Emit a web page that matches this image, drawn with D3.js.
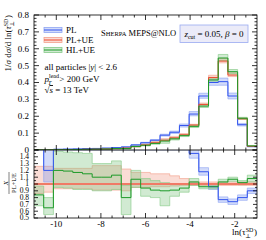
<!DOCTYPE html>
<html><head><meta charset="utf-8">
<script src="https://cdn.jsdelivr.net/npm/d3@7"></script>
<style>
body{margin:0;background:#fff}
svg{display:block}
text{font-family:"Liberation Serif","DejaVu Serif",serif;fill:#000}
</style></head><body>
<svg id="c" width="266" height="240"></svg>
<script>
// ---- data ----
const binEdges = [-11,-10.565,-10.130,-9.696,-9.261,-8.826,-8.391,-7.957,-7.522,-7.087,-6.652,-6.217,-5.783,-5.348,-4.913,-4.478,-4.043,-3.609,-3.174,-2.739,-2.304,-1.870,-1.435,-1];
const seriesNames = ["PL","PL+UE","HL+UE"];
const mainPL   = [0.002,0.002,0.004,0.005,0.006,0.008,0.009,0.011,0.014,0.018,0.030,0.043,0.058,0.088,0.105,0.145,0.213,0.320,0.400,0.405,0.320,0.150,0.020];
const mainPLUE = [0.001,0.001,0.002,0.002,0.003,0.004,0.005,0.006,0.008,0.011,0.020,0.030,0.043,0.058,0.072,0.090,0.148,0.270,0.430,0.527,0.444,0.185,0.022];
const mainHLUE = [0.001,0.001,0.002,0.002,0.003,0.004,0.005,0.006,0.009,0.009,0.021,0.028,0.039,0.053,0.066,0.085,0.140,0.260,0.415,0.545,0.464,0.188,0.024];
// ratio to PL+UE
const ratioPL    = [1.60,1.20,1.60,1.60,1.60,1.60,1.60,1.60,1.60,1.60,1.60,1.60,1.60,1.60,1.60,1.60,1.45,1.18,0.96,0.77,0.74,0.80,0.90];
const ratioPLlo  = [1.50,1.03,1.50,1.50,1.50,1.50,1.50,1.50,1.50,1.50,1.50,1.50,1.50,1.50,1.50,1.50,1.38,1.13,0.92,0.73,0.70,0.76,0.86];
const ratioPLhi  = [1.70,1.55,1.70,1.70,1.70,1.70,1.70,1.70,1.70,1.70,1.70,1.70,1.70,1.70,1.70,1.70,1.55,1.24,1.00,0.81,0.78,0.84,0.94];
const ratioUElo  = [0.86,0.88,0.93,0.93,0.93,0.93,0.91,0.91,0.91,0.90,0.95,0.95,0.96,0.96,0.97,0.98,0.98,0.98,0.98,0.98,0.98,0.98,0.98];
const ratioUEhi  = [1.26,1.26,1.23,1.23,1.23,1.23,1.27,1.27,1.27,1.22,1.17,1.17,1.15,1.15,1.12,1.08,1.03,1.03,1.03,1.03,1.03,1.03,1.03];
const ratioHL    = [0.84,0.65,1.20,1.19,1.17,1.15,1.10,1.10,1.13,0.80,1.07,0.94,0.91,0.90,0.91,0.94,1.03,0.96,0.96,1.03,1.07,1.02,1.08];
const ratioHLlo  = [0.68,0.55,0.95,0.94,0.92,0.92,0.90,0.90,0.92,0.55,0.95,0.82,0.80,0.68,0.82,0.88,0.98,0.93,0.93,1.00,1.04,0.99,1.03];
const ratioHLhi  = [0.97,0.80,1.48,1.47,1.46,1.45,1.30,1.30,1.34,0.98,1.20,1.08,1.05,1.02,1.00,1.00,1.08,1.00,0.99,1.07,1.10,1.05,1.13];
const yTicksMain  = [0,0.1,0.2,0.3,0.4,0.5,0.6,0.7,0.8];
const yLabelsMain = ["0","0.1","0.2","0.3","0.4","0.5","0.6","0.7","0.8"];
const yTicksRatio  = [0.5,0.6,0.7,0.8,0.9,1.0,1.1,1.2,1.3,1.4];
const yLabelsRatio = ["0.5","0.6","0.7","0.8","0.9","1","1.1","1.2","1.3","1.4"];
const xTicks  = [-10,-8,-6,-4,-2];
const xLabels = ["-10","-8","-6","-4","-2"];

// ---- layout ----
const svg = d3.select("#c");
const L = 34, R = 257, T = 15, MB = 150, RB = 218;
const x = d3.scaleLinear().domain([-11,-1]).range([L,R]);
const y = d3.scaleLinear().domain([0,0.8]).range([MB,T]);
const yr = d3.scaleLinear().domain([0.5,1.5]).range([RB,MB]);

const col = {
  PL:{line:"#3355ee",band:"#7f99f0",edge:"#8fa6f2"},
  UE:{line:"#ee4a2e",band:"#f29a86",edge:"#f3a08c"},
  HL:{line:"#1d9a28",band:"#7cc47e",edge:"#86c988"}
};

const defs = svg.append("defs");
defs.append("clipPath").attr("id","cm").append("rect").attr("x",L).attr("y",T).attr("width",R-L).attr("height",MB-T);
defs.append("clipPath").attr("id","cr").append("rect").attr("x",L).attr("y",MB).attr("width",R-L).attr("height",RB-MB);

function pts(vals){ const p = vals.map((v,i)=>[binEdges[i],v]); p.push([binEdges[vals.length],vals[vals.length-1]]); return p; }
function ptsBand(lo,hi){ const p = lo.map((v,i)=>[binEdges[i],v,hi[i]]); p.push([binEdges[lo.length],lo[lo.length-1],hi[hi.length-1]]); return p; }

function drawSet(g, ys, bands, lines){
  bands.forEach(b=>{
    const d = ptsBand(b.lo,b.hi);
    g.append("path").datum(d)
      .attr("d", d3.area().curve(d3.curveStepAfter).x(p=>x(p[0])).y0(p=>ys(p[1])).y1(p=>ys(p[2])))
      .attr("fill",b.c.band).attr("fill-opacity",0.35).attr("stroke","none");
    [b.lo,b.hi].forEach(arr=>{
      g.append("path").datum(pts(arr))
       .attr("d", d3.line().curve(d3.curveStepAfter).x(p=>x(p[0])).y(p=>ys(p[1])))
       .attr("fill","none").attr("stroke",b.c.edge).attr("stroke-width",0.8).attr("stroke-opacity",0.8);
    });
  });
  lines.forEach(l=>{
    g.append("path").datum(pts(l.v))
      .attr("d", d3.line().curve(d3.curveStepAfter).x(p=>x(p[0])).y(p=>ys(p[1])))
      .attr("fill","none").attr("stroke",l.c.line).attr("stroke-width",l.w||1);
  });
}

// main panel bands: relative uncertainty taken from ratio panel
const rel = (v,lo,c)=>v.map((d,i)=>d*lo[i]/c[i]);
const ones = ratioUElo.map(()=>1);
const gm = svg.append("g").attr("clip-path","url(#cm)");
drawSet(gm, y, [
  {lo:rel(mainPL,ratioPLlo,ratioPL),hi:rel(mainPL,ratioPLhi,ratioPL),c:col.PL},
  {lo:rel(mainPLUE,ratioUElo,ones),hi:rel(mainPLUE,ratioUEhi,ones),c:col.UE},
  {lo:rel(mainHLUE,ratioHLlo,ratioHL),hi:rel(mainHLUE,ratioHLhi,ratioHL),c:col.HL}
],[
  {v:mainPL,c:col.PL},{v:mainPLUE,c:col.UE},{v:mainHLUE,c:col.HL}
]);

const gr = svg.append("g").attr("clip-path","url(#cr)");
drawSet(gr, yr, [
  {lo:ratioUElo,hi:ratioUEhi,c:col.UE},
  {lo:ratioPLlo,hi:ratioPLhi,c:col.PL},
  {lo:ratioHLlo,hi:ratioHLhi,c:col.HL}
],[
  {v:ones,c:{line:"#f07a66"},w:2},
  {v:ratioPL,c:col.PL},{v:ratioHL,c:col.HL}
]);

// ---- frames and ticks ----
const ax = svg.append("g").attr("stroke","#000").attr("stroke-width",0.8);
ax.append("rect").attr("x",L).attr("y",T).attr("width",R-L).attr("height",RB-T).attr("fill","none");
ax.append("line").attr("x1",L).attr("x2",R).attr("y1",MB).attr("y2",MB).attr("stroke","#222").attr("stroke-width",1);

function xt(yy, dir){
  d3.range(-10.5,-1,0.5).forEach(v=>{
    const maj = xTicks.includes(v);
    const len = maj?5:2.5;
    ax.append("line").attr("x1",x(v)).attr("x2",x(v)).attr("y1",yy).attr("y2",yy+dir*len);
  });
}
xt(T,1); xt(MB,-1); xt(MB,1); xt(RB,-1);

function yt(scale, majors, step, lo, hi, lenMaj){
  d3.range(lo, hi+1e-9, step).forEach(v=>{
    const maj = majors.some(m=>Math.abs(m-v)<1e-6);
    const len = maj?lenMaj:lenMaj/2;
    ax.append("line").attr("x1",L).attr("x2",L+len).attr("y1",scale(v)).attr("y2",scale(v));
    ax.append("line").attr("x1",R).attr("x2",R-len).attr("y1",scale(v)).attr("y2",scale(v));
  });
}
yt(y, yTicksMain, 0.02, 0, 0.8, 5);
yt(yr, yTicksRatio.concat([1.5]), 0.05, 0.5, 1.5, 4);

// tick labels
const fs = 9;
yTicksMain.forEach((v,i)=>svg.append("text").attr("x",29).attr("y",y(v)).attr("dy","0.33em").attr("text-anchor","end").attr("font-size",fs).text(yLabelsMain[i]));
yTicksRatio.forEach((v,i)=>svg.append("text").attr("x",29).attr("y",yr(v)).attr("dy","0.33em").attr("text-anchor","end").attr("font-size",7.5).text(yLabelsRatio[i]));
xTicks.forEach((v,i)=>svg.append("text").attr("x",x(v)).attr("y",227).attr("text-anchor","middle").attr("font-size",fs).text(xLabels[i]));

// axis titles
const xl = svg.append("text").attr("x",R).attr("y",235).attr("text-anchor","end").attr("font-size",fs);
xl.append("tspan").text("ln(τ");
xl.append("tspan").attr("font-size",6).attr("dy",-3.5).text("SD");
xl.append("tspan").attr("font-size",6).attr("dx",-8).attr("dy",6).text("⊥");
xl.append("tspan").attr("dx",3).attr("dy",-2.5).text(")");

const yl = svg.append("text").attr("transform","translate(11,15) rotate(-90)").attr("text-anchor","end").attr("font-size",fs);
yl.append("tspan").text("1/");
yl.append("tspan").attr("font-style","italic").text("σ");
yl.append("tspan").text(" d");
yl.append("tspan").attr("font-style","italic").text("σ");
yl.append("tspan").text("/d ln(");
yl.append("tspan").attr("font-style","italic").text("τ");
yl.append("tspan").attr("font-size",6).attr("dy",-3.5).text("SD");
yl.append("tspan").attr("font-size",6).attr("dx",-8).attr("dy",6).text("⊥");
yl.append("tspan").attr("dx",3).attr("dy",-2.5).text(")");

const rl = svg.append("g").attr("transform","translate(10,183) rotate(-90)");
rl.append("text").attr("x",0).attr("y",-2.5).attr("text-anchor","middle").attr("font-size",7).attr("font-style","italic").text("X");
rl.append("line").attr("x1",-11).attr("x2",11).attr("y1",-1).attr("y2",-1).attr("stroke","#000").attr("stroke-width",0.5);
rl.append("text").attr("x",0).attr("y",5.5).attr("text-anchor","middle").attr("font-size",6.5).text("PL+UE");

// legend
const legY = [30,40,50];
const legC = [col.PL,col.UE,col.HL];
seriesNames.forEach((n,i)=>{
  const g = svg.append("g");
  g.append("rect").attr("x",44).attr("y",legY[i]-2.5).attr("width",18).attr("height",5)
    .attr("fill",legC[i].band).attr("fill-opacity",0.35).attr("stroke",legC[i].edge).attr("stroke-width",0.8);
  g.append("line").attr("x1",44).attr("x2",62).attr("y1",legY[i]).attr("y2",legY[i]).attr("stroke",legC[i].line).attr("stroke-width",1);
  g.append("text").attr("x",66).attr("y",legY[i]).attr("dy","0.33em").attr("font-size",fs).text(n);
});

// annotations
const a1 = svg.append("text").attr("x",44.5).attr("y",70).attr("font-size",fs);
a1.append("tspan").text("all particles |");
a1.append("tspan").attr("font-style","italic").text("y");
a1.append("tspan").text("| < 2.6");
const a2 = svg.append("text").attr("x",44.5).attr("y",82).attr("font-size",fs);
a2.append("tspan").attr("font-style","italic").text("p");
a2.append("tspan").attr("font-size",6).attr("dy",-4).text("lead");
a2.append("tspan").attr("font-size",6).attr("font-style","italic").attr("dx",-11).attr("dy",6.5).text("T");
a2.append("tspan").attr("dx",8).attr("dy",-2.5).text("> 200 GeV");
const a3 = svg.append("text").attr("x",44.5).attr("y",93).attr("font-size",fs);
a3.append("tspan").text("√");
a3.append("tspan").attr("font-style","italic").attr("text-decoration","overline").text("s");
a3.append("tspan").text(" = 13 TeV");

const sh = svg.append("text").attr("x",101).attr("y",36).attr("font-size",8.5);
sh.append("tspan").text("S");
sh.append("tspan").attr("font-size",6.5).text("HERPA");
sh.append("tspan").text(" MEPS@NLO");

svg.append("rect").attr("x",180).attr("y",25).attr("width",68).attr("height",17.5)
  .attr("fill","#ebebf8").attr("stroke","#9aaaf0").attr("stroke-width",0.8);
const bx = svg.append("text").attr("x",214).attr("y",37).attr("text-anchor","middle").attr("font-size",fs);
bx.append("tspan").attr("font-style","italic").text("z");
bx.append("tspan").attr("font-size",6).attr("dy",2).text("cut");
bx.append("tspan").attr("dy",-2).text(" = 0.05, ");
bx.append("tspan").attr("font-style","italic").text("β");
bx.append("tspan").text(" = 0");
</script></body></html>
